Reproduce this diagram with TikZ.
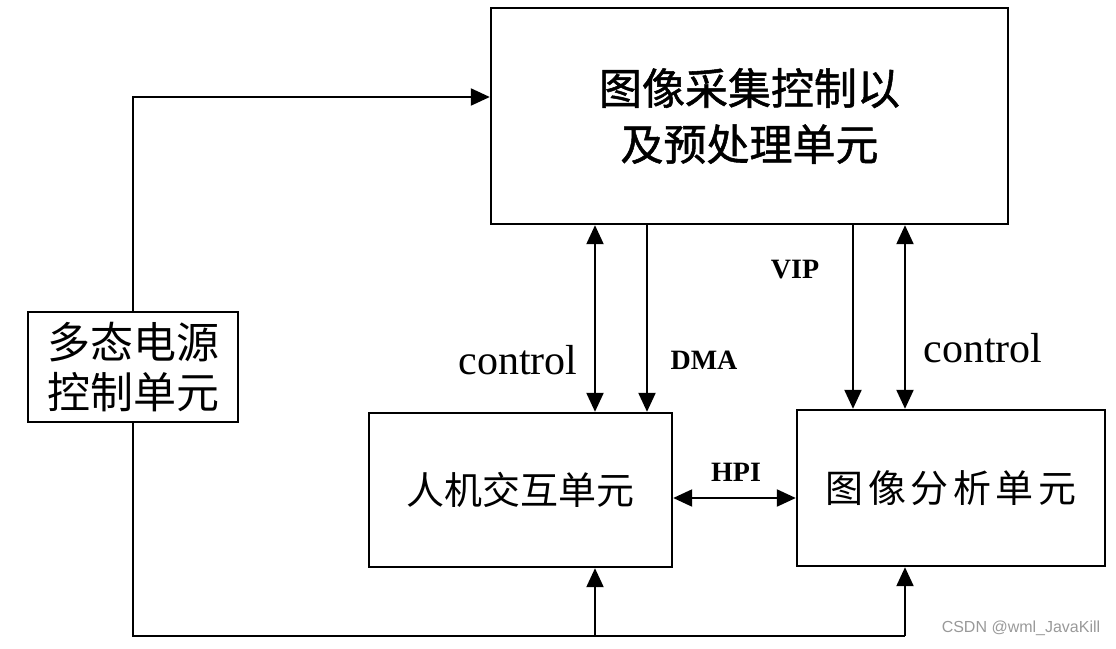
\documentclass[tikz,border=0pt]{standalone}
\usepackage{fontspec}
\setmainfont{Liberation Serif}
\newfontfamily\cjk{Noto Sans CJK SC}
\newfontfamily\cjkheavy[FakeBold=1.2]{Noto Sans CJK SC}
\newfontfamily\cjkwide[LetterSpace=12]{Noto Sans CJK SC}
\newfontfamily\wmfont{Liberation Sans}
\usetikzlibrary{arrows.meta}
\begin{document}
\begin{tikzpicture}[x=1pt,y=-1pt,
  line width=2.2pt,
  unit/.style={draw, line width=2.4pt, inner sep=0pt, align=center},
  link/.style={-{Triangle[length=19pt,width=17pt]}},
  dlink/.style={{Triangle[length=19pt,width=17pt]}-{Triangle[length=19pt,width=17pt]}},
  lbl/.style={font=\fontsize{42}{44}\selectfont},
  blbl/.style={font=\bfseries\fontsize{28}{30}\selectfont}]
\useasboundingbox (0,0) rectangle (1116,648);

% blocks
\node[unit, minimum width=517pt, minimum height=216pt,
      font=\cjkheavy\fontsize{43}{56}\selectfont] (acq) at (749.5,116)
      {图像采集控制以\\及预处理单元};
\node[unit, minimum width=210pt, minimum height=110pt,
      font=\cjk\fontsize{43}{50}\selectfont] (pwr) at (133,367)
      {多态电源\\控制单元};
\node[unit, minimum width=303pt, minimum height=154pt,
      font=\cjk\fontsize{38}{40}\selectfont] (hmi) at (520.5,490)
      {人机交互单元};
\node[unit, minimum width=308pt, minimum height=156pt,
      font=\cjkwide\fontsize{38}{40}\selectfont] (ana) at (951,488)
      {图像分析单元};

% helper positions
\coordinate (ptop) at (0,97);
\coordinate (xc1) at (595,0);
\coordinate (xd) at (647,0);
\coordinate (xv) at (853,0);
\coordinate (xc2) at (905,0);
\coordinate (b1) at (595,636);
\coordinate (b2) at (905,636);
\coordinate (yh) at (0,498);

% power distribution
\draw[link] (pwr.north) |- (acq.west |- ptop);
\draw (pwr.south) |- (b2);
\draw[link] (b1) -- (hmi.south -| b1);
\draw[link] (b2) -- (ana.south -| b2);

% buses between units
\draw[dlink] (acq.south -| xc1) -- (hmi.north -| xc1);
\draw[link] (acq.south -| xd) -- (hmi.north -| xd);
\draw[link] (acq.south -| xv) -- (ana.north -| xv);
\draw[dlink] (acq.south -| xc2) -- (ana.north -| xc2);
\draw[dlink] (hmi.east |- yh) -- (ana.west |- yh);

% labels
\node[lbl] (lc1) at (518,360) {control};
\node[blbl] (ldma) at (704,360) {DMA};
\node[blbl] (lvip) at (795,270) {VIP};
\node[lbl] (lc2) at (983,348) {control};
\node[blbl] (lhpi) at (736,472) {HPI};

\node[text=black!40, font=\wmfont\fontsize{16}{18}\selectfont] (wm) at (1021,628) {CSDN @wml\_JavaKill};
\end{tikzpicture}
\end{document}
